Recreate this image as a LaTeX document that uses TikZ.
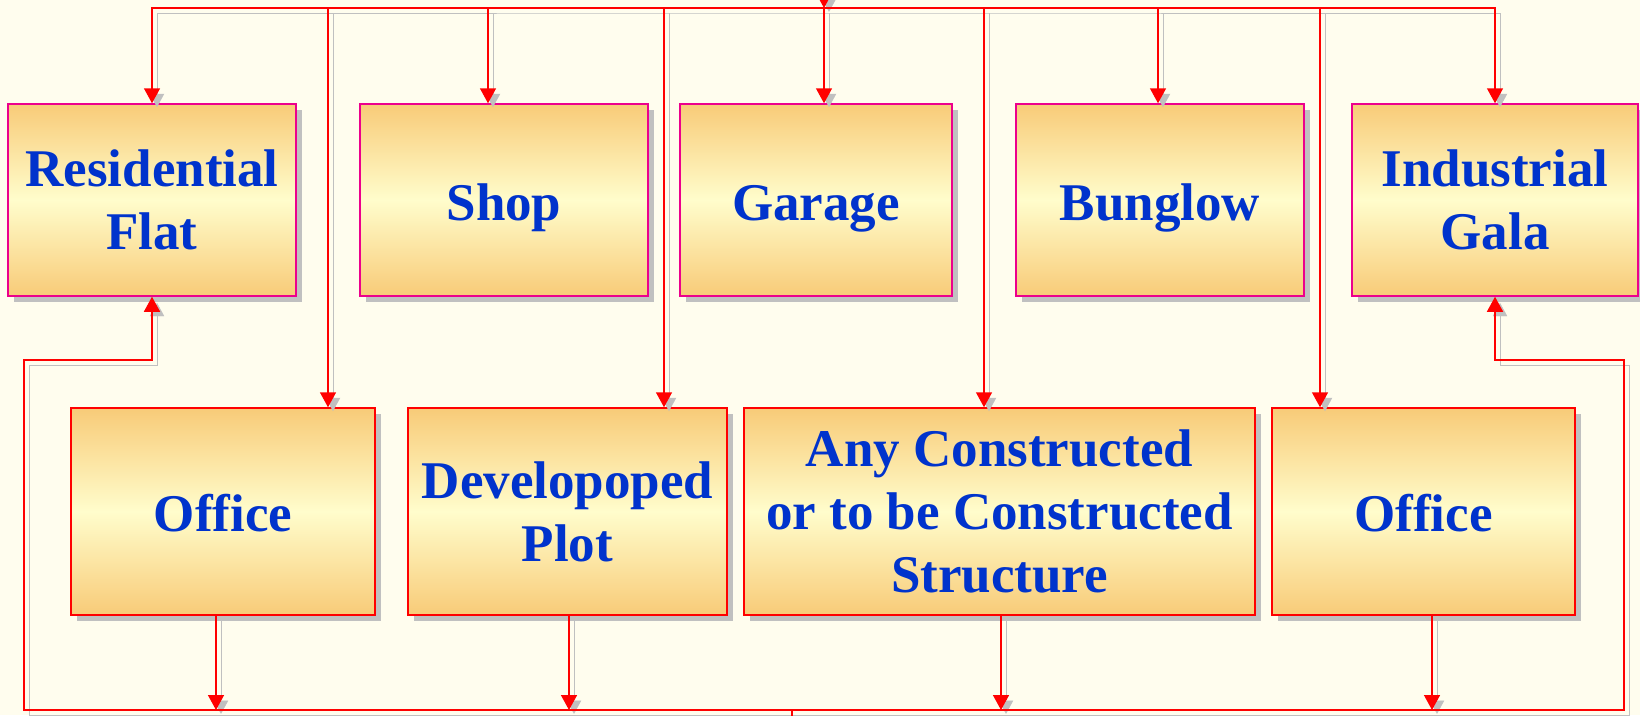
\documentclass[tikz,border=0pt]{standalone}
\usepackage{fontspec}
\setmainfont{Liberation Serif}
\usetikzlibrary{arrows.meta}
\usetikzlibrary{shadows}

\definecolor{bgcream}{RGB}{255,253,238}
\definecolor{boxorange}{RGB}{248,203,120}
\definecolor{boxyellow}{RGB}{255,253,204}
\definecolor{txtblue}{RGB}{0,51,204}
\definecolor{shadegray}{RGB}{192,192,192}

\tikzset{
  box/.style={line width=1.5pt, top color=boxorange, bottom color=boxorange, middle color=boxyellow,
    inner sep=0pt, align=center, text=txtblue, font=\fontsize{53}{63}\selectfont\bfseries,
    drop shadow={shadow xshift=6pt, shadow yshift=-6pt, fill=shadegray, opacity=1}},
  toprow/.style={box, draw=magenta, minimum height=192pt},
  botrow/.style={box, draw=red, minimum height=207pt},
  oneline/.style={text height=40pt, text depth=0pt},
  wire/.style={draw=red, line width=1.5pt,
    preaction={draw=shadegray, transform canvas={shift={(5pt,-5pt)}}}},
  arrowed/.style={-{Triangle[length=15pt,width=16pt]}},
  twoway/.style={{Triangle[length=15pt,width=16pt]}-{Triangle[length=15pt,width=16pt]}},
}

\begin{document}
\begin{tikzpicture}[x=1pt,y=-1pt]
	\fill[bgcream] (0,0) rectangle (1640,715);
	\useasboundingbox (0,0) rectangle (1640,715);

	% upper row
	\node[toprow, minimum width=288pt] (res) at (152,200) {Residential\\Flat};
	\node[toprow, oneline, minimum width=288pt] (shop) at (504,200) {Shop};
	\node[toprow, oneline, minimum width=272pt] (garage) at (816,200) {Garage};
	\node[toprow, oneline, minimum width=288pt] (bung) at (1160,200) {Bunglow};
	\node[toprow, minimum width=286pt] (gala) at (1495,200) {Industrial\\Gala};

	% lower row
	\node[botrow, oneline, minimum width=304pt] (off1) at (223,511.5) {Office};
	\node[botrow, minimum width=319pt] (plot) at (567.5,511.5) {Developoped\\Plot};
	\node[botrow, minimum width=511pt] (struct) at (999.5,511.5) {Any Constructed\\or to be Constructed\\Structure};
	\node[botrow, oneline, minimum width=303pt] (off2) at (1423.5,511.5) {Office};

	% top bus
	\coordinate (in) at (824,8);
	\draw[wire,arrowed] (824,-20) -- (in);
	\draw[wire,twoway] (res.north) |- (in) -| (gala.north);
	\foreach \x/\n in {328/off1,488/shop,664/plot,824/garage,984/struct,1158/bung,1320/off2}
		\draw[wire,arrowed] (\x,8) -- (\x,0 |- \n.north);

	% bottom bus
	\coordinate (out) at (792,710);
	\foreach \x/\n in {216/off1,569/plot,1001/struct,1432/off2}
		\draw[wire,arrowed] (\x,0 |- \n.south) -- (\x,710);
	\draw[wire,twoway] (res.south) |- (24,360) |- (out) -| (1624,360) -| (gala.south);
	\draw[wire] (out) -- (792,730);

\end{tikzpicture}
\end{document}
